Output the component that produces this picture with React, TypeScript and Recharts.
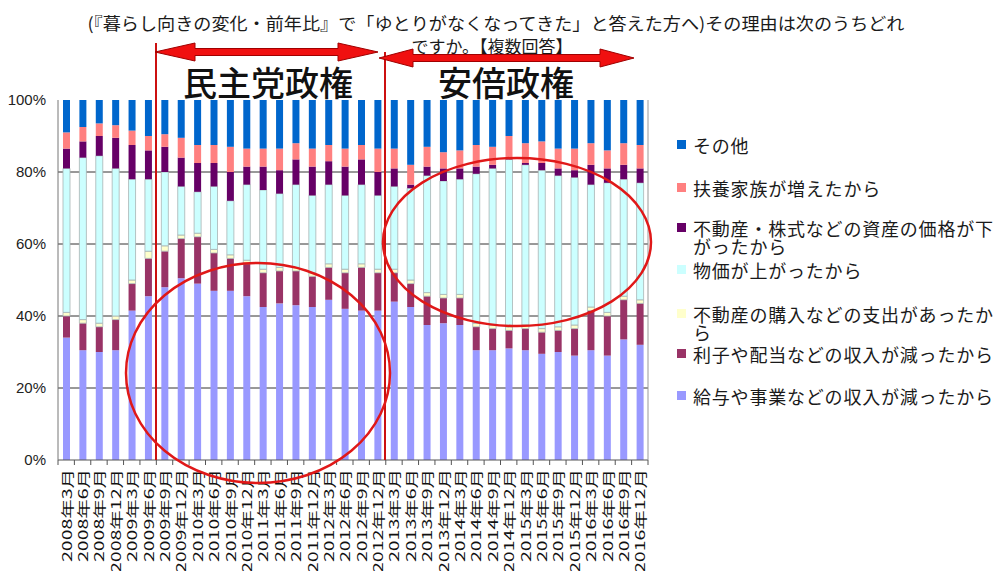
import React from "react";
import { BarChart, Bar, XAxis, YAxis, CartesianGrid } from "recharts";

const categories = [
  "2008年3月", "2008年6月", "2008年9月", "2008年12月",
  "2009年3月", "2009年6月", "2009年9月", "2009年12月",
  "2010年3月", "2010年6月", "2010年9月", "2010年12月",
  "2011年3月", "2011年6月", "2011年9月", "2011年12月",
  "2012年3月", "2012年6月", "2012年9月", "2012年12月",
  "2013年3月", "2013年6月", "2013年9月", "2013年12月",
  "2014年3月", "2014年6月", "2014年9月", "2014年12月",
  "2015年3月", "2015年6月", "2015年9月", "2015年12月",
  "2016年3月", "2016年6月", "2016年9月", "2016年12月",
];

// 給与や事業などの収入が減ったから
const salary = [34, 30.5, 30, 30.5, 41.5, 45.5, 48, 50.5, 49, 47, 47, 45.5, 42.5, 43.5, 43, 42.5, 44.5, 42, 41.5, 41.5, 44, 42.5, 37.5, 38, 37.5, 30.5, 30.5, 31, 30.5, 29.5, 30, 29, 30.5, 29, 33.5, 32];
// 利子や配当などの収入が減ったから
const interest = [6, 7.5, 7, 8.5, 7.5, 10.5, 10, 11, 13, 10.5, 9, 9, 9.5, 9, 9.5, 8.5, 9, 10, 12, 10.5, 8, 6.5, 8, 7, 7.5, 6.5, 6, 5, 6, 6, 6, 7.5, 11, 11, 11, 11.5];
// 不動産の購入などの支出があったから
const purchase = [1, 1, 1, 1, 1, 2, 1.5, 1, 1, 1, 1, 1, 1, 1, 1, 1, 1, 1, 1, 1, 1, 1, 1, 1, 1, 1, 1, 1, 1, 1, 1, 1, 1, 1, 1, 1];
// 物価が上がったから
const prices = [40, 45, 46.5, 41, 28, 20, 20.5, 13.5, 11.5, 17.5, 15, 21, 22, 20.5, 23, 21.5, 22, 20.5, 22, 20.5, 23, 25.5, 32.5, 31.5, 32, 41.5, 43.5, 46.5, 44.5, 44, 42, 41, 34, 36, 32.5, 32.5];
// 不動産・株式などの資産の価格が下がったから
const assets = [5.5, 4.5, 5.5, 8.5, 9.5, 8, 7, 8, 8, 6.5, 8, 5, 6.5, 6.5, 7, 8, 6.5, 8, 7, 6.5, 5, 1, 2.5, 3.5, 3, 2, 1, 0.5, 0.5, 2, 2, 2, 5.5, 4, 4, 4];
// 扶養家族が増えたから
const family = [4.5, 4, 3.5, 3.5, 4, 4, 3.5, 5.5, 5, 5, 7, 5, 5, 6, 4.5, 5, 4.5, 5, 4, 6.5, 5.5, 5.5, 5.5, 4.5, 5, 6, 5, 6, 5.5, 6, 5.5, 6, 6, 5, 6, 6.5];
// その他
const other = [9, 7.5, 6.5, 7, 8.5, 10, 9.5, 10.5, 12.5, 12.5, 13, 13.5, 13.5, 13.5, 12, 13.5, 12.5, 13.5, 12.5, 13.5, 13.5, 18, 13, 14.5, 14, 12.5, 13, 10, 12, 11.5, 13.5, 13.5, 12, 14, 12, 12.5];

const yTicks = [0, 0.2, 0.4, 0.6, 0.8, 1];

const titleLine1 = "(『暮らし向きの変化・前年比』で「ゆとりがなくなってきた」と答えた方へ)その理由は次のうちどれ";
const titleLine2 = "ですか。【複数回答】";
const periodLabels = ["民主党政権", "安倍政権"];

const series = [
  { key: "salary", name: "給与や事業などの収入が減ったから", color: "#9999FF", values: salary },
  { key: "interest", name: "利子や配当などの収入が減ったから", color: "#993366", values: interest },
  { key: "purchase", name: "不動産の購入などの支出があったから", color: "#FFFFCC", values: purchase },
  { key: "prices", name: "物価が上がったから", color: "#CCFFFF", values: prices },
  { key: "assets", name: "不動産・株式などの資産の価格が下がったから", color: "#660066", values: assets },
  { key: "family", name: "扶養家族が増えたから", color: "#FF8080", values: family },
  { key: "other", name: "その他", color: "#0066CC", values: other },
];

const legendItems = [
  { lines: ["その他"], color: "#0066CC", y: 145 },
  { lines: ["扶養家族が増えたから"], color: "#FF8080", y: 188 },
  { lines: ["不動産・株式などの資産の価格が下", "がったから"], color: "#660066", y: 228 },
  { lines: ["物価が上がったから"], color: "#CCFFFF", y: 270 },
  { lines: ["不動産の購入などの支出があったか", "ら"], color: "#FFFFCC", y: 314 },
  { lines: ["利子や配当などの収入が減ったから"], color: "#993366", y: 354 },
  { lines: ["給与や事業などの収入が減ったから"], color: "#9999FF", y: 396 },
];

const data = categories.map((c, i) => {
  const row: Record<string, any> = { cat: c };
  series.forEach((s) => {
    row[s.key] = s.values[i];
  });
  return row;
});

const W = 1005;
const H = 571;
const PLOT_L = 58;
const PLOT_R = 648;
const PLOT_T = 100;
const PLOT_B = 460;
const BAND = (PLOT_R - PLOT_L) / categories.length;
const JP = '"Noto Sans CJK JP", "Noto Sans", sans-serif';

const XTick = (props: any) => {
  const { x, y, payload, index } = props;
  const s: string = payload.value;
  const tl = [...s].reduce((a, c) => a + (/[0-9]/.test(c) ? 11 : 19), 0);
  const ty = y;
  return (
    <g>
      <line x1={x - BAND / 2} x2={x - BAND / 2} y1={PLOT_B} y2={PLOT_B + 5} stroke="#555" />
      {index === categories.length - 1 && (
        <line x1={x + BAND / 2} x2={x + BAND / 2} y1={PLOT_B} y2={PLOT_B + 5} stroke="#555" />
      )}
      <text
        x={x}
        y={ty}
        transform={`rotate(-90 ${x} ${ty})`}
        textAnchor="end"
        dominantBaseline="central"
        fontSize={13}
        fontFamily={JP}
        fill="#111"
        textLength={tl}
        lengthAdjust="spacingAndGlyphs"
      >
        {s}
      </text>
    </g>
  );
};

function doubleArrow(x1: number, x2: number, y: number, head: number, hh: number, bh: number) {
  const pts = [
    [x1, y],
    [x1 + head, y - hh],
    [x1 + head, y - bh],
    [x2 - head, y - bh],
    [x2 - head, y - hh],
    [x2, y],
    [x2 - head, y + hh],
    [x2 - head, y + bh],
    [x1 + head, y + bh],
    [x1 + head, y + hh],
  ];
  return pts.map((p) => p.join(",")).join(" ");
}

export default function App() {
  return (
    <div style={{ position: "absolute", left: 0, top: 0, width: W, height: H, background: "#fff", overflow: "hidden" }}>
      <BarChart
        width={W}
        height={H}
        data={data}
        stackOffset="expand"
        margin={{ top: PLOT_T, right: W - PLOT_R, left: PLOT_L - 50, bottom: 0 }}
        barSize={7}
      >
        <CartesianGrid vertical={false} horizontalValues={[0.2, 0.4, 0.6, 0.8]} stroke="#333" strokeWidth={1} />
        <XAxis
          dataKey="cat"
          interval={0}
          height={H - PLOT_B}
          tickLine={false}
          tickSize={0}
          tickMargin={9}
          axisLine={{ stroke: "#555" }}
          tick={<XTick />}
        />
        <YAxis
          width={50}
          domain={[0, 1]}
          ticks={yTicks}
          tickFormatter={(v: number) => `${Math.round(v * 100)}%`}
          tickLine={false}
          tickSize={0}
          tickMargin={12}
          axisLine={{ stroke: "#777" }}
          tick={{ fontSize: 15, fill: "#222", fontFamily: '"Liberation Sans", Arial, sans-serif' }}
        />
        {series.map((s) => (
          <Bar
            key={s.key}
            dataKey={s.key}
            name={s.name}
            stackId="a"
            fill={s.color}
            stroke={s.key === "prices" || s.key === "purchase" ? "#a8b4b4" : "none"}
            strokeWidth={0.8}
            isAnimationActive={false}
          />
        ))}
      </BarChart>
      <svg
        width={W}
        height={H}
        style={{ position: "absolute", left: 0, top: 0, pointerEvents: "none" }}
      >
        <line x1={PLOT_R} x2={PLOT_R} y1={PLOT_T} y2={PLOT_B} stroke="#999" strokeWidth={1} />
        <text x={496} y={22} textAnchor="middle" dominantBaseline="central" fontSize={17} fontFamily={JP} fill="#1a1a1a" textLength={817} lengthAdjust="spacingAndGlyphs">
          {titleLine1}
        </text>
        <text x={492} y={45} textAnchor="middle" dominantBaseline="central" fontSize={17} fontFamily={JP} fill="#1a1a1a">
          {titleLine2}
        </text>
        <line x1={156} x2={156} y1={43} y2={PLOT_B} stroke="#CC1010" strokeWidth={2} />
        <line x1={385} x2={385} y1={52} y2={PLOT_B} stroke="#CC1010" strokeWidth={2} />
        <polygon points={doubleArrow(155, 378, 52, 40, 9, 3.5)} fill="#F01010" stroke="#A00000" strokeWidth={1} />
        <polygon points={doubleArrow(379, 634, 58, 34, 9, 3.5)} fill="#F01010" stroke="#A00000" strokeWidth={1} />
        <text x={268} y={81} textAnchor="middle" dominantBaseline="central" fontSize={34} fontFamily={JP} fontWeight={500} fill="#111">
          {periodLabels[0]}
        </text>
        <text x={506} y={81} textAnchor="middle" dominantBaseline="central" fontSize={34} fontFamily={JP} fontWeight={500} fill="#111">
          {periodLabels[1]}
        </text>
        <ellipse cx={258} cy={373} rx={132} ry={110} fill="none" stroke="#E01818" strokeWidth={2.5} />
        <ellipse cx={517} cy={242} rx={134} ry={84} fill="none" stroke="#E01818" strokeWidth={2.5} />
        {legendItems.map((it, i) => (
          <g key={i}>
            <rect x={677} y={it.y - 5} width={9} height={9} fill={it.color} />
            {it.lines.map((ln, j) => (
              <text key={j} x={693} y={it.y + j * 18} dominantBaseline="central" fontSize={18} letterSpacing={0.8} fontFamily={JP} fill="#1a1a1a">
                {ln}
              </text>
            ))}
          </g>
        ))}
      </svg>
    </div>
  );
}
